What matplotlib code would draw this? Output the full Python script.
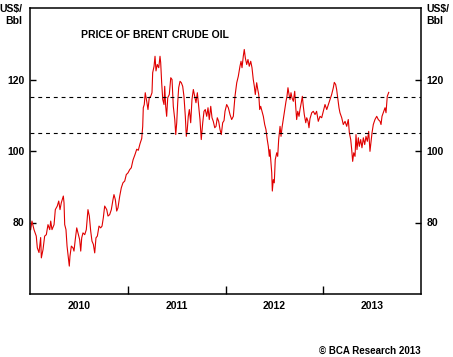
import matplotlib
matplotlib.use('Agg')
import matplotlib.pyplot as plt
from matplotlib.ticker import FixedLocator, NullFormatter

# Brent crude, US$/bbl (x as years after 2010-01-01)
t = [0.007, 0.020, 0.041, 0.064, 0.075, 0.092, 0.109, 0.116, 0.133, 0.150,
     0.167, 0.184, 0.202, 0.212, 0.225, 0.246, 0.259, 0.279, 0.294, 0.307,
     0.320, 0.341, 0.348, 0.355, 0.368, 0.379, 0.389, 0.402, 0.409, 0.423,
     0.440, 0.450, 0.463, 0.478, 0.491, 0.508, 0.519, 0.529, 0.542, 0.560,
     0.576, 0.593, 0.607, 0.621, 0.634, 0.648, 0.662, 0.675, 0.689, 0.706,
     0.723, 0.737, 0.750, 0.764, 0.785, 0.798, 0.815, 0.832, 0.849, 0.859,
     0.873, 0.887, 0.900, 0.918, 0.934, 0.951, 0.969, 0.985, 1.003, 1.020,
     1.036, 1.054, 1.074, 1.092, 1.108, 1.125, 1.143, 1.153, 1.159, 1.169,
     1.179, 1.194, 1.207, 1.220, 1.235, 1.248, 1.255, 1.269, 1.279, 1.289,
     1.302, 1.317, 1.330, 1.337, 1.347, 1.358, 1.371, 1.378, 1.388, 1.398,
     1.409, 1.425, 1.440, 1.453, 1.466, 1.481, 1.491, 1.501, 1.511, 1.521,
     1.535, 1.548, 1.562, 1.575, 1.589, 1.599, 1.609, 1.619, 1.630, 1.644,
     1.657, 1.671, 1.685, 1.698, 1.712, 1.726, 1.739, 1.752, 1.767, 1.780,
     1.793, 1.808, 1.821, 1.834, 1.849, 1.862, 1.875, 1.890, 1.903, 1.916,
     1.930, 1.944, 1.957, 1.971, 1.985, 1.995, 2.012, 2.029, 2.046, 2.063,
     2.080, 2.097, 2.115, 2.131, 2.148, 2.159, 2.169, 2.182, 2.192, 2.203,
     2.217, 2.230, 2.243, 2.258, 2.271, 2.284, 2.295, 2.305, 2.319, 2.330,
     2.340, 2.350, 2.360, 2.373, 2.387, 2.401, 2.414, 2.427, 2.438, 2.448,
     2.455, 2.465, 2.473, 2.479, 2.489, 2.499, 2.509, 2.524, 2.534, 2.544,
     2.558, 2.568, 2.578, 2.591, 2.609, 2.619, 2.629, 2.639, 2.650, 2.660,
     2.670, 2.680, 2.694, 2.708, 2.718, 2.728, 2.739, 2.752, 2.762, 2.775,
     2.786, 2.796, 2.806, 2.821, 2.831, 2.844, 2.854, 2.864, 2.882, 2.898,
     2.916, 2.932, 2.949, 2.967, 2.984, 3.001, 3.018, 3.036, 3.052, 3.069,
     3.086, 3.103, 3.113, 3.127, 3.137, 3.148, 3.161, 3.171, 3.189, 3.205,
     3.223, 3.240, 3.256, 3.267, 3.281, 3.291, 3.301, 3.312, 3.325, 3.335,
     3.345, 3.359, 3.369, 3.383, 3.396, 3.410, 3.424, 3.437, 3.451, 3.465,
     3.478, 3.489, 3.499, 3.512, 3.529, 3.547, 3.563, 3.581, 3.591, 3.601,
     3.614, 3.632, 3.642, 3.655, 3.670]
price = [78.0, 80.4, 78.0, 76.2, 72.9, 71.6, 75.8, 70.1, 72.4, 76.2,
         76.6, 79.4, 78.0, 80.4, 78.0, 79.4, 83.6, 84.6, 86.0, 83.6,
         85.5, 87.4, 85.5, 79.4, 78.0, 73.4, 71.0, 67.8, 70.6, 73.4,
         72.9, 72.0, 75.2, 78.5, 77.1, 75.2, 72.0, 75.7, 77.1, 76.6,
         78.0, 83.6, 81.8, 77.6, 74.8, 73.9, 71.5, 75.7, 76.2, 79.0,
         78.5, 79.0, 81.3, 84.6, 83.6, 81.8, 82.2, 83.6, 86.4, 87.8,
         86.4, 83.2, 84.1, 87.4, 89.7, 91.1, 91.6, 93.4, 93.9, 94.8,
         95.3, 97.5, 99.0, 100.5, 100.2, 102.0, 103.5, 106.9, 112.1, 113.0,
         116.3, 113.9, 111.6, 114.9, 115.3, 116.3, 121.9, 123.7, 126.5, 122.4,
         124.2, 123.3, 126.5, 124.7, 119.1, 114.4, 113.0, 118.1, 112.5, 109.7,
         114.9, 115.8, 120.5, 120.0, 112.5, 108.8, 104.6, 107.9, 113.5, 117.7,
         119.5, 119.1, 118.1, 115.3, 109.7, 104.1, 106.0, 109.7, 111.6, 107.9,
         114.4, 117.2, 115.3, 113.5, 116.3, 112.5, 108.8, 103.2, 107.9, 111.1,
         111.6, 109.7, 112.1, 108.8, 112.5, 109.3, 108.3, 106.5, 106.9, 109.3,
         108.3, 106.0, 104.6, 107.9, 108.5, 111.1, 113.0, 112.1, 110.2, 108.8,
         109.7, 115.3, 119.1, 120.9, 123.7, 125.1, 123.3, 126.5, 128.4, 126.0,
         124.2, 125.6, 123.7, 125.1, 123.3, 120.0, 118.1, 115.8, 119.1, 117.2,
         115.8, 111.6, 112.5, 111.1, 109.7, 107.4, 106.0, 103.2, 101.3, 98.5,
         100.4, 96.7, 93.9, 88.8, 92.0, 91.1, 97.6, 99.5, 98.5, 103.2,
         106.9, 104.1, 106.5, 108.8, 112.1, 113.9, 115.3, 117.7, 115.8, 114.4,
         116.3, 114.9, 113.9, 116.7, 112.5, 108.8, 111.1, 109.7, 111.6, 113.5,
         115.3, 112.5, 110.2, 107.9, 109.3, 108.3, 106.5, 109.0, 110.7, 111.1,
         110.2, 111.1, 108.3, 109.7, 109.3, 111.1, 113.0, 111.6, 113.0, 114.4,
         115.8, 117.7, 119.2, 118.6, 117.2, 114.9, 112.1, 110.7, 109.3, 107.4,
         108.3, 106.9, 108.8, 105.1, 103.2, 100.4, 97.1, 99.5, 98.5, 104.6,
         100.4, 103.7, 101.3, 103.2, 100.9, 103.7, 101.8, 104.1, 102.7, 105.5,
         99.9, 102.7, 105.1, 107.4, 108.8, 109.7, 108.8, 108.3, 107.4, 109.7,
         110.7, 112.1, 110.7, 115.3, 116.4]

years = [2010, 2011, 2012, 2013]
ref_levels = [105, 115]
y_ticks = [80, 100, 120]

FONT = 'Liberation Sans'


def main() -> None:
    fig = plt.figure(figsize=(4.53, 3.57), dpi=100)
    ax = fig.add_axes([30 / 453, 63 / 357, 391 / 453, 286 / 357])

    x = [years[0] + v for v in t]
    ax.plot(x, price, color='#e00000', linewidth=0.8)
    for level in ref_levels:
        ax.axhline(level, color='k', linewidth=0.8, linestyle=(0, (3.5, 3.5)))

    ax.set_xlim(years[0], years[-1] + 1)
    ax.set_ylim(60, 140)

    # year boundaries as ticks, labels centred in each year
    ax.xaxis.set_major_locator(FixedLocator(years[1:]))
    ax.xaxis.set_major_formatter(NullFormatter())
    ax.xaxis.set_minor_locator(FixedLocator([y + 0.5 for y in years]))
    ax.set_xticklabels([str(y) for y in years], minor=True)
    ax.tick_params(axis='x', which='major', direction='in', length=6, width=1)
    ax.tick_params(axis='x', which='minor', length=0, pad=5)

    ax.set_yticks(y_ticks)
    ax.tick_params(axis='y', direction='in', length=4, width=1, pad=4,
                   left=True, right=True, labelleft=True, labelright=True)

    for lab in ax.get_xticklabels(minor=True) + ax.get_yticklabels():
        lab.set_fontfamily(FONT)
        lab.set_fontweight('bold')
        lab.set_fontsize(7.5)

    for s in ax.spines.values():
        s.set_linewidth(1.1)

    ax.text(0.13, 0.905, 'PRICE OF BRENT CRUDE OIL', transform=ax.transAxes,
            fontfamily=FONT, fontweight='bold', fontsize=7.5, va='center')
    fig.text(22 / 453, 1 - 4 / 357, 'US$/\nBbl', fontfamily=FONT, fontweight='bold',
             fontsize=7.5, va='top', ha='right', multialignment='right',
             linespacing=1.3)
    fig.text(426 / 453, 1 - 4 / 357, 'US$/\nBbl', fontfamily=FONT, fontweight='bold',
             fontsize=7.5, va='top', ha='left', linespacing=1.3)
    fig.text(421 / 453, 1 - 351 / 357, '\u00a9 BCA Research 2013', fontfamily=FONT,
             fontweight='bold', fontsize=7, va='center', ha='right')

    fig.savefig('out.png', dpi=100)


if __name__ == '__main__':
    main()
